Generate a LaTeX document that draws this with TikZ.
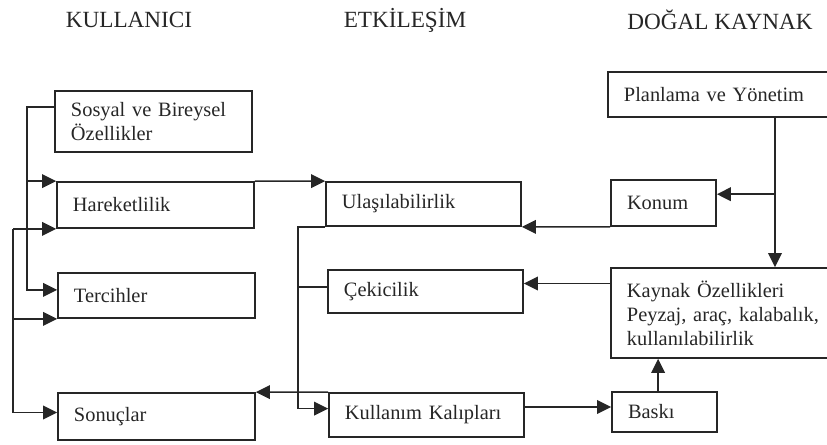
\documentclass[tikz,border=0pt]{standalone}
\usepackage{fontspec}
\setmainfont{Liberation Serif}
\usetikzlibrary{arrows.meta}

\begin{document}
\begin{tikzpicture}[x=.025cm,y=-.025cm,line width=1.2pt,draw=black!85,text=black!85,
  box/.style={draw,rectangle,align=left,inner xsep=4mm,inner ysep=0pt,font=\fontsize{14.5}{17}\selectfont},
  head/.style={font=\fontsize{16.5}{19}\selectfont},
  arr/.style={-{Triangle[length=3.5mm,width=3.4mm]}}]
\useasboundingbox (0,0) rectangle (827,445);
\node[head] (kullanici) at (129,20) {KULLANICI};
\node[head] (etkilesim) at (405,20) {ETKİLEŞİM};
\node[head] (dogal) at (720,20) {DOĞAL KAYNAK};
\node[box,text width=41.25mm,minimum height=15.25mm] (sosyal) at (153.5,121.5) {Sosyal ve Bireysel\\Özellikler};
\node[box,text width=41.25mm,minimum height=11.5mm] (hareket) at (155.5,205) {Hareketlilik};
\node[box,text width=41.25mm,minimum height=11.25mm] (tercih) at (156.5,295.5) {Tercihler};
\node[box,text width=41.25mm,minimum height=11.75mm] (sonuc) at (156.5,416.5) {Sonuçlar};
\node[box,text width=40.75mm,minimum height=11mm] (ulas) at (423.5,204) {Ulaşılabilirlik};
\node[box,text width=40.75mm,minimum height=10.75mm] (cekici) at (425.5,291.5) {Çekicilik};
\node[box,text width=40.75mm,minimum height=11mm] (kalip) at (426.5,415) {Kullanım Kalıpları};
\node[box,text width=50mm,minimum height=11.25mm] (plan) at (724,94.5) {Planlama ve Yönetim};
\node[box,text width=18.25mm,minimum height=11.5mm] (konum) at (663.5,203) {Konum};
\node[box,text width=49.25mm,minimum height=22.5mm] (kaynak) at (725.5,313) {Kaynak Özellikleri\\Peyzaj, araç, kalabalık,\\kullanılabilirlik};
\node[box,text width=18.25mm,minimum height=10mm] (baski) at (664.5,412) {Baskı};
\coordinate (ax) at (27,0);
\coordinate (bx) at (13,0);
\coordinate (cx) at (298,0);
\coordinate (px) at (775,0);
\draw[arr] ([yshift=3.6mm]sosyal.west) -| ([yshift=1.4mm]tercih.west -| ax) -- ([yshift=1.4mm]tercih.west);
\draw[arr] (hareket.north west -| ax) -- (hareket.north west);
\draw[arr] (hareket.north east) -- (ulas.north west);
\draw[arr] (hareket.south west -| bx) -- (hareket.south west);
\draw[arr] (hareket.south west -| bx) |- (tercih.south west);
\draw[arr] (hareket.south west -| bx) |- ([yshift=1mm]sonuc.west);
\draw[arr] (konum.south west) -- (ulas.south east);
\draw[arr] (ulas.south west) -| ([yshift=1.6mm]kalip.west -| cx) -- ([yshift=1.6mm]kalip.west);
\draw ([yshift=1.1mm]cekici.west) -- ([yshift=1.1mm]cekici.west -| cx);
\draw[arr] ([yshift=2mm]cekici.east -| kaynak.west) -- ([yshift=2mm]cekici.east);
\draw[arr] (kalip.north west) -- (sonuc.north east);
\draw[arr] ([yshift=2mm]kalip.east) -- ([yshift=2mm]kalip.east -| baski.west);
\draw[arr] ([xshift=-1.6mm]baski.north) -- ([xshift=-1.6mm]baski.north |- kaynak.south);
\draw[arr] (plan.south -| px) -- (kaynak.north -| px);
\draw[arr] ([yshift=2.2mm]konum.east -| px) -- ([yshift=2.2mm]konum.east);
\end{tikzpicture}
\end{document}
